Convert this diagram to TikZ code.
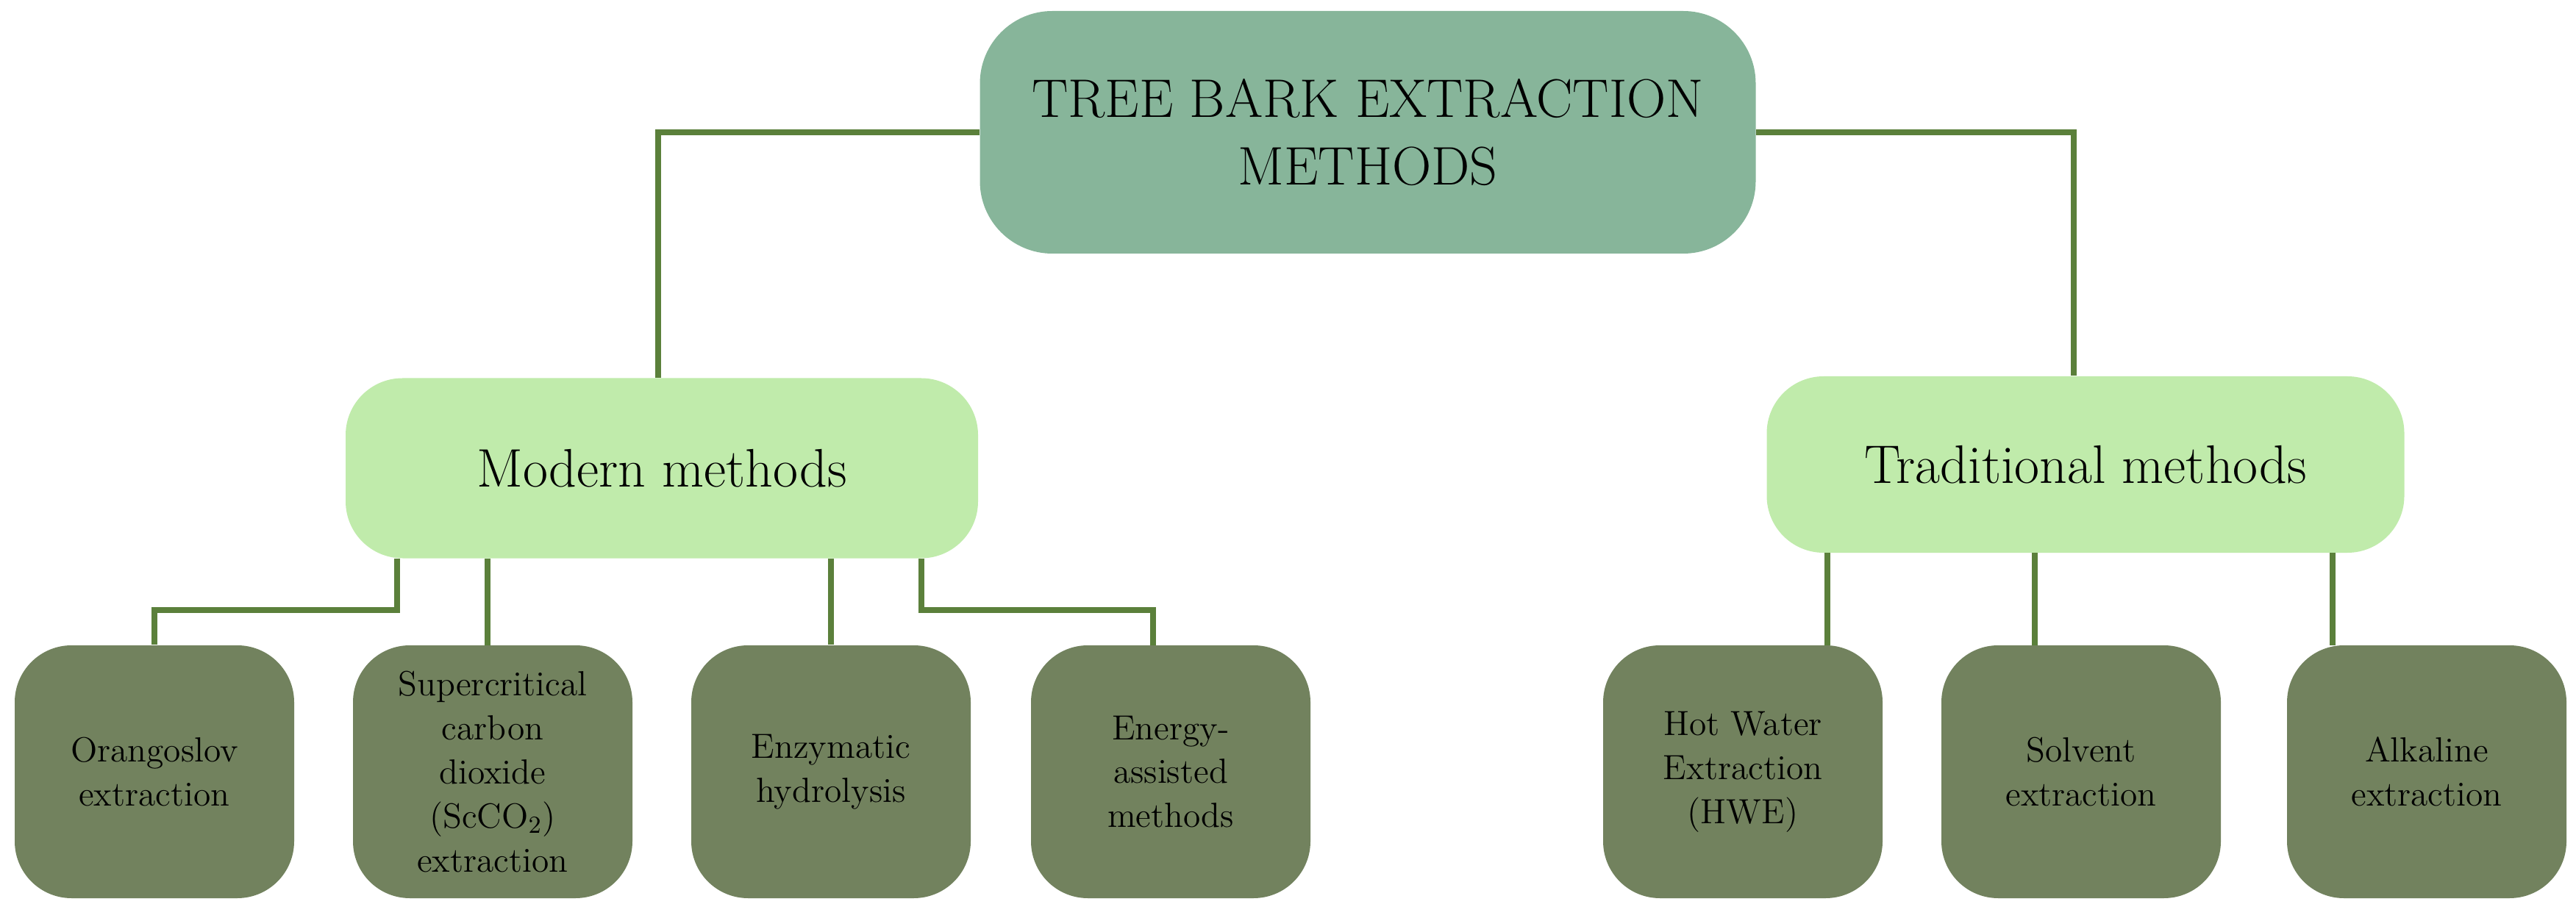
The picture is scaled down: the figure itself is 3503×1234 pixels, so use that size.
\documentclass[tikz,border=0pt]{standalone}
\begin{document}
\begin{tikzpicture}[x=0.01cm,y=-0.01cm,
  conn/.style={draw=linec,line width=2.2pt},
  top/.style={fill=topc,rounded corners=28pt,inner sep=0pt,align=center,font=\fontsize{21}{26}\selectfont},
  mid/.style={fill=midc,rounded corners=22pt,inner sep=0pt,align=center,font=\fontsize{21}{26}\selectfont},
  leaf/.style={fill=leafc,rounded corners=22pt,inner sep=0pt,align=center,font=\fontsize{13.5}{17}\selectfont}]
\definecolor{topc}{HTML}{87B59A}
\definecolor{midc}{HTML}{C0EBAB}
\definecolor{leafc}{HTML}{72825E}
\definecolor{linec}{HTML}{5B803B}
\useasboundingbox (0,0) rectangle (3503,1234);
\node[top,minimum width=1055*0.01cm,minimum height=330*0.01cm] (T) at (1860,180) {TREE BARK EXTRACTION\\METHODS};
\node[mid,minimum width=860*0.01cm,minimum height=245*0.01cm] (M) at (900,637) {Modern methods};
\node[mid,minimum width=867*0.01cm,minimum height=240*0.01cm] (R) at (2836,632) {Traditional methods};
\foreach \n/\x/\t in {a/210/{Orangoslov\\extraction},b/670/{Supercritical\\carbon\\dioxide\\(ScCO\textsubscript{2})\\extraction},c/1130/{Enzymatic\\hydrolysis},d/1592/{Energy-\\assisted\\methods},e/2370/{Hot Water\\Extraction\\(HWE)},f/2830/{Solvent\\extraction},g/3300/{Alkaline\\extraction}}
  \node[leaf,minimum width=380*0.01cm,minimum height=344*0.01cm] (\n) at (\x,1050) {\t};
\coordinate (tl) at (895,180); \coordinate (tr) at (2820,180);
\draw[conn] (T.west |- tl) -- (tl) -- (tl |- M.north);
\draw[conn] (T.east |- tr) -- (tr) -- (tr |- R.north);
\coordinate (m1) at (540,830); \coordinate (m4) at (1253,830);
\draw[conn] (m1 |- M.south) -- (m1) -- (a.north |- m1) -- (a.north);
\draw[conn] (663,760) -- (663,878);
\draw[conn] (1130,760) -- (c.north);
\draw[conn] (m4 |- M.south) -- (m4) -- (1568,830) -- (1568,878);
\draw[conn] (2485,752) -- (2485,878);
\draw[conn] (2767,752) -- (2767,878);
\draw[conn] (3172,752) -- (3172,878);
\end{tikzpicture}
\end{document}
